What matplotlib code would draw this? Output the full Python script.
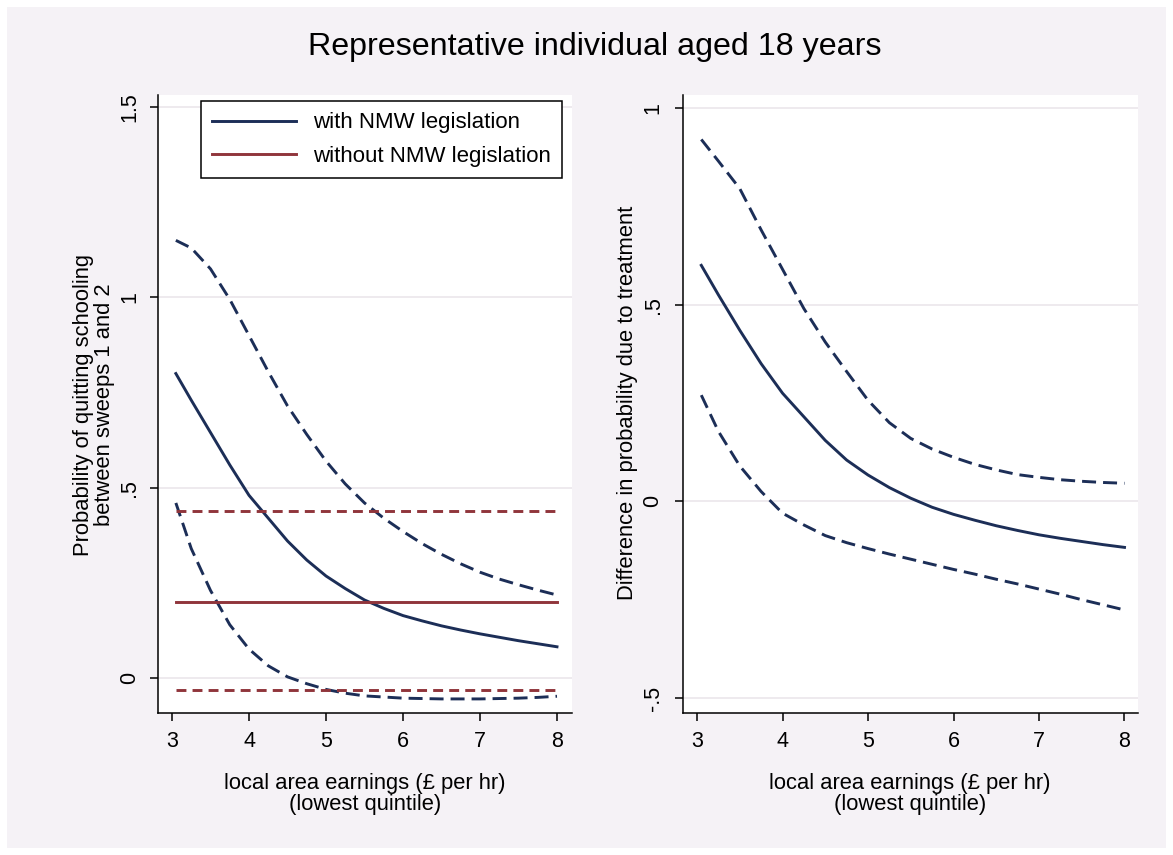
import matplotlib
matplotlib.use("Agg")
import matplotlib.pyplot as plt
from matplotlib.patches import Rectangle

# ---------------- data ----------------
earnings = [3.05, 3.25, 3.5, 3.75, 4.0, 4.25, 4.5, 4.75, 5.0, 5.25, 5.5,
            5.75, 6.0, 6.25, 6.5, 6.75, 7.0, 7.25, 7.5, 7.75, 8.0]

# left panel: probability with NMW legislation (+ CI)
with_nmw = [0.80, 0.73, 0.645, 0.56, 0.48, 0.42, 0.36, 0.31, 0.268, 0.235, 0.205,
            0.183, 0.164, 0.150, 0.137, 0.126, 0.116, 0.107, 0.098, 0.090, 0.082]
with_nmw_upper = [1.15, 1.13, 1.075, 0.995, 0.90, 0.805, 0.715, 0.64, 0.57, 0.51, 0.46,
                  0.42, 0.385, 0.353, 0.325, 0.30, 0.278, 0.26, 0.245, 0.231, 0.218]
with_nmw_lower = [0.46, 0.34, 0.23, 0.14, 0.076, 0.032, 0.003, -0.015, -0.03, -0.04, -0.047,
                  -0.05, -0.053, -0.054, -0.055, -0.055, -0.055, -0.054, -0.053, -0.051, -0.048]

# left panel: probability without NMW legislation (+ CI), flat
without_x = [3.05, 8.0]
without_nmw = [0.201, 0.201]
without_nmw_upper = [0.438, 0.438]
without_nmw_lower = [-0.032, -0.032]

# right panel: difference due to treatment (+ CI)
diff = [0.60, 0.525, 0.435, 0.35, 0.275, 0.215, 0.155, 0.105, 0.067, 0.035, 0.008,
        -0.015, -0.033, -0.048, -0.062, -0.074, -0.085, -0.094, -0.102, -0.110, -0.117]
diff_upper = [0.92, 0.865, 0.795, 0.69, 0.59, 0.49, 0.405, 0.33, 0.257, 0.20, 0.16,
              0.133, 0.112, 0.094, 0.080, 0.068, 0.061, 0.055, 0.051, 0.048, 0.046]
diff_lower = [0.27, 0.178, 0.09, 0.025, -0.03, -0.06, -0.087, -0.105, -0.12, -0.134, -0.147,
              -0.16, -0.173, -0.185, -0.198, -0.21, -0.223, -0.236, -0.25, -0.263, -0.276]

xticks = [3, 4, 5, 6, 7, 8]
left_yticks = [0, 0.5, 1, 1.5]
left_yticklabels = ["0", ".5", "1", "1.5"]
right_yticks = [-0.5, 0, 0.5, 1]
right_yticklabels = ["-.5", "0", ".5", "1"]

title = "Representative individual aged 18 years"
xlabel = "local area earnings (\u00a3 per hr)\n(lowest quintile)"
left_ylabel = "Probability of quitting schooling\nbetween sweeps 1 and 2"
right_ylabel = "Difference in probability due to treatment"
legend_labels = ["with NMW legislation", "without NMW legislation"]

# ---------------- style ----------------
plt.rcParams['font.family'] = ['Liberation Sans', 'DejaVu Sans']
NAVY = "#1c2e57"
MAROON = "#90353b"
BG = "#f5f2f6"
GRID = "#ebe6eb"
LW = 2.1
DASH = (4.8, 2.4)
RDASH = (3.4, 2.1)
LABEL_FS = 15.8
TICK_FS = 15.5

W, H = 1173, 855
fig = plt.figure(figsize=(W / 100, H / 100), dpi=100)
fig.patch.set_facecolor("white")
fig.patches.append(Rectangle((7 / W, 7 / H), 1159 / W, 841 / H, transform=fig.transFigure,
                             facecolor=BG, edgecolor="none", zorder=-10))


def px_axes(x0, x1, y0, y1):
    return fig.add_axes([x0 / W, 1 - y1 / H, (x1 - x0) / W, (y1 - y0) / H])


def style_axes(ax, yticks, yticklabels, ypad):
    ax.set_facecolor("white")
    for s in ("top", "right"):
        ax.spines[s].set_visible(False)
    for s in ("left", "bottom"):
        ax.spines[s].set_linewidth(1.1)
        ax.spines[s].set_color("black")
    ax.set_xticks(xticks)
    ax.set_xticklabels([str(t) for t in xticks])
    ax.set_yticks(yticks)
    ax.set_yticklabels(yticklabels)
    ax.tick_params(axis="both", direction="out", length=6, width=1.1, labelsize=TICK_FS)
    ax.tick_params(axis="x", pad=7)
    ax.tick_params(axis="y", pad=ypad, labelrotation=90)
    for lab in ax.get_yticklabels():
        lab.set_verticalalignment("center")
    ax.grid(axis="y", color=GRID, linewidth=1.2, zorder=0)
    ax.set_axisbelow(True)


# ---------------- left panel ----------------
ax1 = px_axes(158, 572, 95, 713)
ax1.set_xlim(2.818, 8.195)
ax1.set_ylim(-0.092, 1.532)
style_axes(ax1, left_yticks, left_yticklabels, 7)

l1, = ax1.plot(earnings, with_nmw, color=NAVY, lw=LW)
ax1.plot(earnings, with_nmw_upper, color=NAVY, lw=LW, dashes=DASH)
ax1.plot(earnings, with_nmw_lower, color=NAVY, lw=LW, dashes=DASH)
l2, = ax1.plot(without_x, without_nmw, color=MAROON, lw=LW)
ax1.plot(without_x, without_nmw_upper, color=MAROON, lw=LW, dashes=RDASH)
ax1.plot(without_x, without_nmw_lower, color=MAROON, lw=LW, dashes=RDASH)

leg = ax1.legend([l1, l2], legend_labels, loc="upper right",
                 bbox_to_anchor=(0.976, 0.990), borderaxespad=0, fontsize=16,
                 handlelength=3.8, handletextpad=0.75, labelspacing=0.58,
                 borderpad=0.5, fancybox=False, framealpha=1, edgecolor="black")
leg.get_frame().set_linewidth(1.1)

# ---------------- right panel ----------------
ax2 = px_axes(683, 1138, 95, 713)
ax2.set_xlim(2.836, 8.158)
ax2.set_ylim(-0.538, 1.033)
style_axes(ax2, right_yticks, right_yticklabels, 8)

ax2.plot(earnings, diff, color=NAVY, lw=LW)
ax2.plot(earnings, diff_upper, color=NAVY, lw=LW, dashes=DASH)
ax2.plot(earnings, diff_lower, color=NAVY, lw=LW, dashes=DASH)

# ---------------- texts ----------------
fig.text(595 / W, 1 - 47 / H, title, ha="center", va="center", fontsize=23.2)
fig.text(365 / W, 1 - 794 / H, xlabel, ha="center", va="center", fontsize=LABEL_FS,
         multialignment="center", linespacing=1.0)
fig.text(910 / W, 1 - 794 / H, xlabel, ha="center", va="center", fontsize=LABEL_FS,
         multialignment="center", linespacing=1.0)
fig.text(94 / W, 1 - 405 / H, left_ylabel, ha="center", va="center", rotation=90,
         fontsize=LABEL_FS, multialignment="center", linespacing=1.0)
fig.text(628 / W, 1 - 403 / H, right_ylabel, ha="center", va="center", rotation=90,
         fontsize=LABEL_FS)

fig.savefig("out.png", dpi=100)
